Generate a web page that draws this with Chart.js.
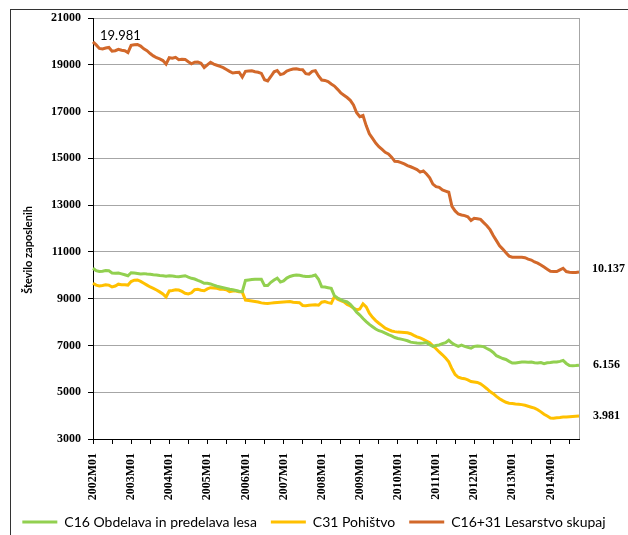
<!DOCTYPE html>
<html>
<head>
<meta charset="utf-8">
<script src="https://cdn.jsdelivr.net/npm/chart.js@4"></script>
<style>
  html, body { margin: 0; padding: 0; background: #fff; }
  #wrap { position: relative; width: 628px; height: 535px; }
</style>
</head>
<body>
<div id="wrap"><canvas id="cchart"></canvas></div>
<script>
// monthly categories 2002M01 .. 2014M10
const years = [2002, 2003, 2004, 2005, 2006, 2007, 2008, 2009, 2010, 2011, 2012, 2013, 2014];
const months = [];
years.forEach((y) => {
  for (let m = 1; m <= 12; m++) months.push(y + 'M' + (m < 10 ? '0' + m : m));
});
months.length = 154;

const yTicks = [3000, 5000, 7000, 9000, 11000, 13000, 15000, 17000, 19000, 21000];

const seriesNames = ['C16 Obdelava in predelava lesa', 'C31 Pohištvo', 'C16+31 Lesarstvo skupaj'];

const c16 = [
  10300, 10200, 10160, 10170, 10200, 10190, 10100, 10090, 10100, 10060, 10020, 9980,
  10110, 10100, 10080, 10060, 10070, 10050, 10040, 10020, 10010, 9990, 9980, 9960,
  9980, 9970, 9950, 9940, 9960, 9980, 9920, 9870, 9840, 9780, 9730, 9660,
  9660, 9630, 9580, 9530, 9500, 9470, 9440, 9400, 9380, 9350, 9320, 9300,
  9780, 9800, 9820, 9830, 9830, 9830, 9560, 9560, 9700, 9800, 9880, 9710,
  9760, 9880, 9950, 9990, 10010, 10000, 9970, 9950, 9950, 9970, 10010, 9830,
  9510, 9500, 9470, 9440, 9120, 9030, 8960, 8900, 8860, 8760, 8600, 8420,
  8300, 8150, 8020, 7900, 7800, 7700, 7630, 7590, 7530, 7460, 7410, 7340,
  7300, 7270, 7240, 7200, 7140, 7120, 7100, 7090, 7100, 7120, 7030, 6960,
  7000, 7020, 7080, 7120, 7220, 7100, 7020, 6960, 7010, 6960, 6920, 6880,
  6960, 6980, 6970, 6950, 6870, 6800, 6700, 6560, 6500, 6440, 6400, 6320,
  6250, 6250, 6270, 6290, 6290, 6280, 6290, 6260, 6250, 6270, 6220, 6260,
  6270, 6290, 6290, 6320, 6360, 6230, 6140, 6130, 6140, 6156,
];

const c31 = [
  9660, 9580, 9540, 9560, 9590, 9580, 9500, 9540, 9620, 9600, 9590, 9580,
  9730, 9790, 9800, 9740, 9660, 9580, 9500, 9440, 9370, 9290, 9200, 9070,
  9330, 9350, 9380, 9370, 9310, 9230, 9200, 9250, 9380, 9400, 9360, 9340,
  9420, 9470, 9460, 9440, 9400, 9400, 9380, 9300, 9330, 9330, 9300, 9280,
  8940, 8920, 8900, 8880, 8860, 8820, 8800, 8790, 8810, 8830, 8840, 8850,
  8860, 8870, 8880, 8850, 8840, 8830, 8710, 8700, 8720, 8730, 8740, 8720,
  8850, 8880, 8830, 8800, 9090, 8980, 8920, 8860, 8750, 8690, 8600, 8520,
  8560, 8780, 8650, 8380, 8200, 8060, 7950, 7850, 7740, 7680, 7620, 7590,
  7570, 7560, 7550, 7540, 7500, 7430, 7370, 7320, 7260, 7190, 7120, 6980,
  6860, 6720, 6600, 6460, 6300, 6000, 5760, 5640, 5600, 5580, 5530, 5460,
  5440, 5420, 5360, 5260, 5150, 5030, 4940, 4820, 4720, 4640, 4570, 4530,
  4520, 4500, 4490, 4470, 4440, 4400, 4360, 4320, 4250, 4160, 4060, 3980,
  3900, 3890, 3910, 3920, 3940, 3940, 3950, 3960, 3970, 3981,
];

const total = [
  19981, 19850, 19700, 19680, 19720, 19740, 19580, 19600, 19660, 19620, 19600, 19520,
  19830, 19860, 19870, 19800, 19680, 19600, 19480, 19380, 19300, 19250, 19180, 19030,
  19300, 19280, 19320, 19220, 19240, 19230, 19130, 19040, 19110, 19120, 19070, 18880,
  19000, 19110, 19030, 18980, 18930, 18880, 18800, 18720, 18650, 18670, 18680, 18470,
  18720, 18730, 18740, 18700, 18680, 18630, 18360, 18310, 18500, 18700, 18750, 18580,
  18620, 18730, 18780, 18820, 18830, 18800, 18790, 18620, 18600, 18720, 18750, 18520,
  18350, 18330, 18280, 18180, 18090, 17950, 17800, 17700, 17600, 17480, 17280, 16950,
  16780, 16830, 16400, 16050, 15850, 15650, 15500, 15380, 15260, 15190, 15050, 14870,
  14860, 14820, 14760, 14690, 14640, 14580, 14520, 14410, 14460, 14330, 14170, 13900,
  13790, 13760, 13650, 13600, 13550, 12950, 12750, 12620, 12580, 12550, 12500, 12340,
  12440, 12420, 12390, 12250, 12120, 11950, 11700, 11480, 11260, 11120, 10960, 10820,
  10770, 10770, 10770, 10770, 10750, 10690, 10650, 10570, 10520, 10440, 10350, 10260,
  10170, 10160, 10160, 10230, 10300, 10160, 10130, 10115, 10120, 10137,
];

const colors = ['#92D050', '#FFC000', '#D2682A'];

const fmt = (v) => String(v).replace(/\B(?=(\d{3})+(?!\d))/g, '.');

// frame, plot edge, end values and axis title
const extras = {
  id: 'extras',
  beforeDatasetsDraw(c) {
    const a = c.chartArea;
    const ctx = c.ctx;
    ctx.save();
    ctx.strokeStyle = '#a6a6a6';
    ctx.lineWidth = 1;
    ctx.beginPath();
    ctx.moveTo(a.right + 0.5, a.top);
    ctx.lineTo(a.right + 0.5, a.bottom);
    ctx.stroke();
    ctx.restore();
  },
  afterDraw(c) {
    const ctx = c.ctx;
    const x = c.scales.x;
    const y = c.scales.y;
    const a = c.chartArea;
    const last = months.length - 1;
    ctx.save();
    ctx.strokeStyle = '#333';
    ctx.lineWidth = 1;
    ctx.strokeRect(10.5, 9.5, 700, 600);

    ctx.fillStyle = '#000';
    ctx.textBaseline = 'middle';
    ctx.textAlign = 'left';
    ctx.font = '13px Lato';
    ctx.fillText(fmt(total[0]), x.getPixelForValue(0) + 7, y.getPixelForValue(total[0]) - 6);

    ctx.font = 'bold 12px "Liberation Serif"';
    ctx.fillText(fmt(total[last]), a.right + 13, y.getPixelForValue(total[last]) - 3);
    ctx.fillText(fmt(c16[last]), a.right + 14, y.getPixelForValue(c16[last]));
    ctx.fillText(fmt(c31[last]), a.right + 14, y.getPixelForValue(c31[last]));

    ctx.translate(28, 250);
    ctx.rotate(-Math.PI / 2);
    ctx.textAlign = 'center';
    ctx.font = 'bold 11px Lato';
    ctx.fillText('Število zaposlenih', 0, 0);
    ctx.restore();
  },
};

let chart = null;
let drawChart = () => {
  const ctx = document.getElementById('cchart');
  if (chart) chart.destroy();

  Chart.defaults.font.family = 'Lato, "Liberation Sans", sans-serif';
  Chart.defaults.color = '#000';
  chart = new Chart(ctx, {
    type: 'line',
    data: {
      labels: months,
      datasets: [c16, c31, total].map((d, i) => ({
        label: seriesNames[i],
        data: d,
        borderColor: colors[i],
        backgroundColor: colors[i],
        borderWidth: 3,
        pointRadius: 0,
        tension: 0,
        fill: false,
      })),
    },
    options: {
      animation: false,
      responsive: true,
      maintainAspectRatio: false,
      layout: { padding: { top: 18, left: 0, right: 0, bottom: -4 } },
      plugins: {
        tooltip: { enabled: false },
        legend: {
          position: 'bottom',
          labels: {
            usePointStyle: true,
            pointStyle: 'line',
            pointStyleWidth: 35,
            padding: 14,
            color: '#000',
            font: { size: 14 },
          },
        },
      },
      scales: {
        x: {
          afterFit: (s) => { s.height = 62; },
          border: { color: '#000', width: 1 },
          grid: {
            drawOnChartArea: false,
            tickLength: 5,
            color: (cx) => (cx.index % 6 === 0 ? '#000' : 'rgba(0,0,0,0)'),
          },
          ticks: {
            autoSkip: false,
            minRotation: 90,
            maxRotation: 90,
            padding: 9,
            color: '#000',
            font: { family: '"Liberation Serif"', size: 12, weight: 'bold' },
            callback: (v, i) => (months[i].endsWith('M01') ? months[i] : ''),
          },
        },
        y: {
          min: yTicks[0],
          max: yTicks[yTicks.length - 1],
          afterFit: (s) => { s.width = 93; },
          afterBuildTicks: (s) => { s.ticks = yTicks.map((v) => ({ value: v })); },
          border: { color: '#000', width: 1 },
          grid: { color: '#a6a6a6', tickColor: '#000', tickLength: 5 },
          ticks: {
            padding: 7,
            color: '#000',
            font: { family: '"Liberation Serif"', size: 12, weight: 'bold' },
            callback: (v) => String(v),
          },
        },
        y2: {
          position: 'right',
          display: true,
          afterFit: (s) => { s.width = 49; },
          grid: { display: false },
          border: { display: false },
          ticks: { display: false },
        },
      },
    },
    plugins: [extras],
  });
};

drawChart();
window.onresize = () => {
  drawChart();
};
</script>
</body>
</html>
